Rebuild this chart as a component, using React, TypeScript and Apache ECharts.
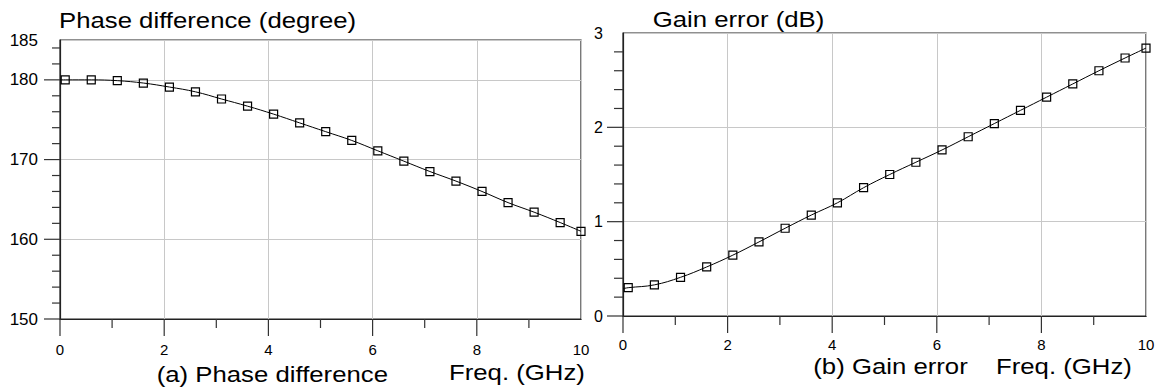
import React, { useEffect, useRef } from "react";
import * as echarts from "echarts";

// ---- data ----
const freqGHz = [0.1, 0.6, 1.1, 1.6, 2.1, 2.6, 3.1, 3.6, 4.1, 4.6, 5.1, 5.6, 6.1, 6.6, 7.1, 7.6, 8.1, 8.6, 9.1, 9.6, 10];
const phaseDiffDeg = [180.0, 180.0, 179.9, 179.6, 179.1, 178.5, 177.6, 176.7, 175.7, 174.6, 173.5, 172.4, 171.1, 169.8, 168.5, 167.3, 166.0, 164.6, 163.4, 162.1, 161.0];
const gainErrDb = [0.30, 0.33, 0.41, 0.52, 0.645, 0.785, 0.93, 1.07, 1.2, 1.36, 1.5, 1.63, 1.76, 1.9, 2.04, 2.18, 2.32, 2.46, 2.6, 2.735, 2.84];
const phaseAtZero = 180.0;
const gainAtZero = 0.29;

// ---- tick positions ----
const xMajorTicks = [0, 2, 4, 6, 8];
const xMinorTicks = [1, 3, 5, 7, 9];
const phaseMajorTicks = [150, 160, 170, 180];
const phaseMinorTicks = [152, 154, 156, 158, 162, 164, 166, 168, 172, 174, 176, 178, 182, 184];
const gainMajorTicks = [0, 1, 2];
const gainMinorTicks = [0.2, 0.4, 0.6, 0.8, 1.2, 1.4, 1.6, 1.8, 2.2, 2.4, 2.6, 2.8];

const titleLeft = "Phase difference (degree)";
const titleRight = "Gain error (dB)";
const captionLeft = "(a) Phase difference";
const captionRight = "(b) Gain error";
const xName = "Freq. (GHz)";

const FONT = '"Liberation Sans", Arial, Helvetica, sans-serif';

export default function App() {
  const ref = useRef<HTMLDivElement>(null);

  useEffect(() => {
    if (!ref.current) return;
    const chart = echarts.init(ref.current, undefined, { renderer: "svg" });

    const axisColor = "#222";
    const tickColor = "#333";
    const gridColor = "#c8c8c8";

    const mainX = (gridIndex: number, margin: number) => ({
      type: "value",
      gridIndex,
      position: "bottom",
      min: 0,
      max: 10,
      interval: 2,
      axisLine: { show: true, lineStyle: { color: axisColor, width: 1.2 } },
      axisTick: { show: false },
      axisLabel: { margin, fontSize: 15, color: "#000", fontFamily: FONT },
      splitLine: { show: true, lineStyle: { color: gridColor, width: 1 } },
    });

    const mainY = (gridIndex: number, min: number, max: number, interval: number, margin: number, fontSize: number) => ({
      type: "value",
      gridIndex,
      position: "left",
      min,
      max,
      interval,
      axisLine: { show: true, lineStyle: { color: axisColor, width: 1.2 } },
      axisTick: { show: false },
      axisLabel: { margin, fontSize, color: "#000", fontFamily: FONT },
      splitLine: { show: true, lineStyle: { color: gridColor, width: 1 } },
    });

    const makeSeries = (xi: number, yi: number, x0: number, y0: number, ys: number[]) => ({
      type: "line",
      xAxisIndex: xi,
      yAxisIndex: yi,
      smooth: 0.4,
      clip: false,
      symbol: "rect",
      symbolSize: 8,
      lineStyle: { color: "#000", width: 1 },
      itemStyle: { color: "rgba(0,0,0,0)", borderColor: "#000", borderWidth: 1.2 },
      data: [
        { value: [x0, y0], symbol: "none" },
        ...freqGHz.map((f, i) => [f, ys[i]]),
      ],
    });

    const textEl = (text: string, x: number, y: number) => ({
      type: "text",
      x,
      y,
      scaleX: 1.17,
      z: 100,
      style: {
        text,
        fontSize: 22,
        fontFamily: FONT,
        fill: "#000",
        align: "left",
        verticalAlign: "middle",
      },
    });

    const texts = [
      textEl(titleLeft, 59, 19.7),
      textEl(titleRight, 652.7, 19.1),
      textEl(captionLeft, 156.7, 374),
      textEl(xName, 449, 372.4),
      textEl(captionRight, 813.3, 365.7),
      textEl(xName, 996, 365.7),
    ];

    chart.setOption({
      animation: false,
      backgroundColor: "#fff",
      grid: [
        { left: 60, top: 40, width: 521, height: 279, show: true, borderColor: axisColor, borderWidth: 1.2, backgroundColor: "transparent" },
        { left: 623, top: 33, width: 523, height: 283, show: true, borderColor: axisColor, borderWidth: 1.2, backgroundColor: "transparent" },
      ],
      xAxis: [mainX(0, 23), mainX(1, 21)],
      yAxis: [mainY(0, 150, 185, 10, 22, 17), mainY(1, 0, 3, 1, 20, 16)],
      series: [
        makeSeries(0, 0, 0, phaseAtZero, phaseDiffDeg),
        makeSeries(1, 1, 0, gainAtZero, gainErrDb),
      ],
      graphic: texts,
    });

    // tick marks placed through the chart's own axis scales
    const tickLine = (x1: number, y1: number, x2: number, y2: number) => ({
      type: "line",
      z: 100,
      silent: true,
      shape: { x1, y1, x2, y2 },
      style: { stroke: tickColor, lineWidth: 1.2 },
    });

    const ticks: any[] = [];
    const panels = [
      { xi: 0, yi: 1 - 1, yMin: 150, yMajor: phaseMajorTicks, yMinor: phaseMinorTicks, yMinorLen: 8 },
      { xi: 1, yi: 1, yMin: 0, yMajor: gainMajorTicks, yMinor: gainMinorTicks, yMinorLen: 9 },
    ];
    panels.forEach((p) => {
      const axisY = chart.convertToPixel({ yAxisIndex: p.yi }, p.yMin) as number;
      const axisX = chart.convertToPixel({ xAxisIndex: p.xi }, 0) as number;
      xMajorTicks.forEach((v) => {
        const px = chart.convertToPixel({ xAxisIndex: p.xi }, v) as number;
        ticks.push(tickLine(px, axisY, px, axisY + 17));
      });
      xMinorTicks.forEach((v) => {
        const px = chart.convertToPixel({ xAxisIndex: p.xi }, v) as number;
        ticks.push(tickLine(px, axisY, px, axisY + 9));
      });
      p.yMajor.forEach((v) => {
        const py = chart.convertToPixel({ yAxisIndex: p.yi }, v) as number;
        ticks.push(tickLine(axisX - 16, py, axisX, py));
      });
      p.yMinor.forEach((v) => {
        const py = chart.convertToPixel({ yAxisIndex: p.yi }, v) as number;
        ticks.push(tickLine(axisX - p.yMinorLen, py, axisX, py));
      });
    });

    chart.setOption({ graphic: [...texts, ...ticks] });

    return () => chart.dispose();
  }, []);

  return (
    <div
      ref={ref}
      style={{ position: "fixed", left: 0, top: 0, width: 1160, height: 392 }}
    />
  );
}
